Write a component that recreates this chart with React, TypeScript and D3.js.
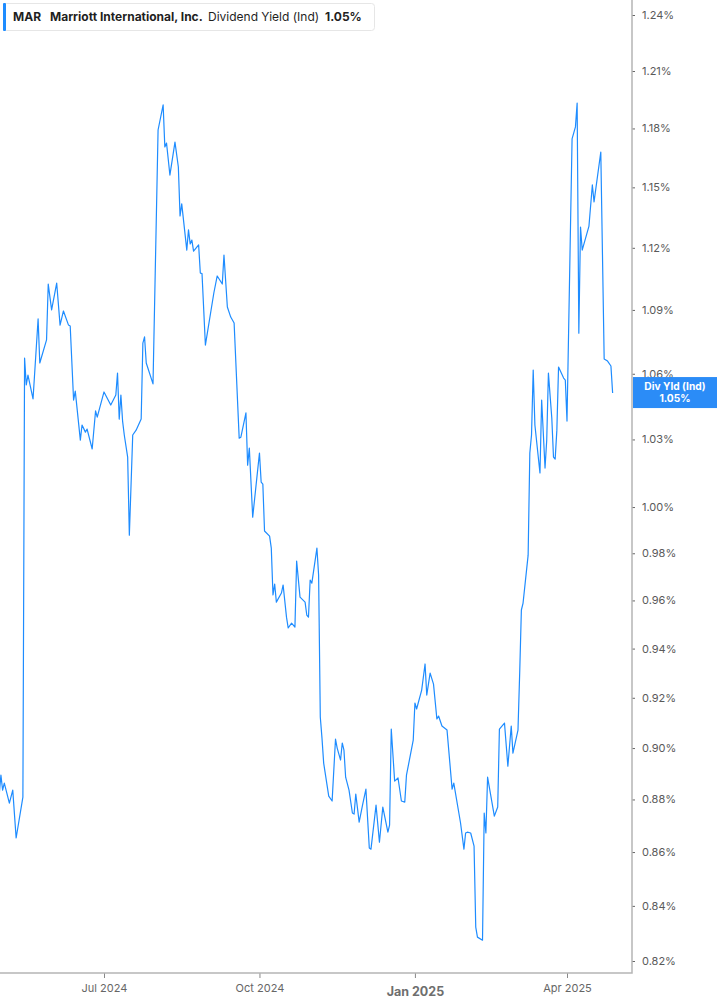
import React, { useEffect, useRef } from "react";
import * as d3 from "d3";

const WIDTH = 717;
const HEIGHT = 1005;
const PLOT_RIGHT = 632;
const PLOT_BOTTOM = 973;
const LINE_COLOR = "#1e8cff";
const FONT = "Inter, 'Noto Sans', sans-serif";

const ticker = "MAR";
const company = "Marriott International, Inc.";
const metric = "Dividend Yield (Ind)";
const tagLabel = "Div Yld (Ind)";

// daily dividend yield (%)
const dates = [
  "2024-04-30", "2024-05-01", "2024-05-02", "2024-05-03", "2024-05-06", "2024-05-08", "2024-05-10",
  "2024-05-14", "2024-05-15", "2024-05-16", "2024-05-17", "2024-05-20", "2024-05-23", "2024-05-24",
  "2024-05-28", "2024-05-29", "2024-05-31", "2024-06-03", "2024-06-05", "2024-06-07", "2024-06-10",
  "2024-06-11", "2024-06-13", "2024-06-14", "2024-06-17", "2024-06-18", "2024-06-20", "2024-06-21",
  "2024-06-24", "2024-06-26", "2024-06-27", "2024-07-01", "2024-07-05", "2024-07-08", "2024-07-09",
  "2024-07-10", "2024-07-11", "2024-07-12", "2024-07-13", "2024-07-15", "2024-07-16", "2024-07-18",
  "2024-07-20", "2024-07-23", "2024-07-24", "2024-07-25", "2024-07-26", "2024-07-30", "2024-08-02",
  "2024-08-05", "2024-08-06", "2024-08-07", "2024-08-09", "2024-08-12", "2024-08-14", "2024-08-15",
  "2024-08-16", "2024-08-19", "2024-08-20", "2024-08-21", "2024-08-22", "2024-08-23", "2024-08-26",
  "2024-08-27", "2024-08-28", "2024-08-30", "2024-09-04", "2024-09-06", "2024-09-09", "2024-09-10",
  "2024-09-12", "2024-09-14", "2024-09-16", "2024-09-19", "2024-09-20", "2024-09-23", "2024-09-24",
  "2024-09-25", "2024-09-27", "2024-10-01", "2024-10-02", "2024-10-03", "2024-10-04", "2024-10-07",
  "2024-10-08", "2024-10-09", "2024-10-10", "2024-10-11", "2024-10-14", "2024-10-15", "2024-10-17",
  "2024-10-18", "2024-10-20", "2024-10-22", "2024-10-23", "2024-10-25", "2024-10-28", "2024-10-29",
  "2024-10-30", "2024-10-31", "2024-11-01", "2024-11-04", "2024-11-05", "2024-11-06", "2024-11-07",
  "2024-11-08", "2024-11-11", "2024-11-13", "2024-11-15", "2024-11-16", "2024-11-18", "2024-11-19",
  "2024-11-20", "2024-11-21", "2024-11-23", "2024-11-25", "2024-11-26", "2024-11-27", "2024-11-29",
  "2024-12-01", "2024-12-03", "2024-12-05", "2024-12-06", "2024-12-09", "2024-12-11", "2024-12-13",
  "2024-12-16", "2024-12-17", "2024-12-18", "2024-12-20", "2024-12-22", "2024-12-24", "2024-12-26",
  "2024-12-27", "2024-12-31", "2025-01-01", "2025-01-02", "2025-01-05", "2025-01-07", "2025-01-08",
  "2025-01-10", "2025-01-12", "2025-01-14", "2025-01-15", "2025-01-17", "2025-01-20", "2025-01-23",
  "2025-01-24", "2025-01-27", "2025-01-28", "2025-01-30", "2025-01-31", "2025-02-01", "2025-02-03",
  "2025-02-05", "2025-02-06", "2025-02-07", "2025-02-10", "2025-02-11", "2025-02-12", "2025-02-13",
  "2025-02-17", "2025-02-19", "2025-02-20", "2025-02-23", "2025-02-25", "2025-02-27", "2025-02-28",
  "2025-03-03", "2025-03-04", "2025-03-05", "2025-03-06", "2025-03-09", "2025-03-10", "2025-03-11",
  "2025-03-12", "2025-03-13", "2025-03-16", "2025-03-17", "2025-03-19", "2025-03-20", "2025-03-21",
  "2025-03-23", "2025-03-24", "2025-03-25", "2025-03-26", "2025-03-27", "2025-03-30", "2025-03-31",
  "2025-04-01", "2025-04-04", "2025-04-06", "2025-04-07", "2025-04-08", "2025-04-09", "2025-04-10",
  "2025-04-14", "2025-04-16", "2025-04-17", "2025-04-21", "2025-04-23", "2025-04-25", "2025-04-27",
  "2025-04-28",
];

const yields = [
  0.8821, 0.8894, 0.8836, 0.8863, 0.8786, 0.8836, 0.8653,
  0.8809, 1.0673, 1.0548, 1.0594, 1.0484, 1.0857, 1.065,
  1.0758, 1.1024, 1.09, 1.1029, 1.0828, 1.0895, 1.0828,
  1.0824, 1.0479, 1.052, 1.0297, 1.0365, 1.0333, 1.0347,
  1.0257, 1.0429, 1.0401, 1.0516, 1.0456, 1.0502, 1.0603,
  1.0392, 1.0502, 1.0383, 1.032, 1.0221, 0.9878, 1.032,
  1.0342, 1.0392, 1.0743, 1.0772, 1.065, 1.0553, 1.1792,
  1.1922, 1.1705, 1.1725, 1.1562, 1.173, 1.1603, 1.1357,
  1.1417, 1.1189, 1.1288, 1.1219, 1.1238, 1.1184, 1.1214,
  1.1077, 1.1075, 1.0734, 1.0981, 1.1063, 1.1024, 1.1165,
  1.0914, 1.0866, 1.0838, 1.0306, 1.031, 1.042, 1.0185,
  1.0261, 0.9956, 1.0239, 1.011, 1.0101, 0.9896, 0.9874,
  0.9822, 0.9623, 0.9669, 0.9593, 0.9631, 0.9665, 0.953,
  0.9485, 0.9505, 0.9489, 0.9767, 0.9614, 0.9593, 0.9539,
  0.953, 0.9686, 0.9673, 0.9822, 0.9707, 0.9123, 0.9039,
  0.8941, 0.8813, 0.8794, 0.9035, 0.9, 0.8953, 0.902,
  0.8992, 0.8886, 0.8836, 0.8748, 0.8744, 0.8821, 0.8713,
  0.8778, 0.884, 0.8615, 0.8611, 0.8778, 0.8637, 0.8771,
  0.8675, 0.8702, 0.9075, 0.8871, 0.8883, 0.8794, 0.879,
  0.8894, 0.9031, 0.9179, 0.9155, 0.9231, 0.9337, 0.9211,
  0.93, 0.9255, 0.9115, 0.9127, 0.9087, 0.9071, 0.884,
  0.8863, 0.8748, 0.871, 0.8611, 0.8672, 0.8675, 0.8672,
  0.8622, 0.8322, 0.8286, 0.8275, 0.8748, 0.8672, 0.8886,
  0.8736, 0.8771, 0.9075, 0.9099, 0.8929, 0.9087, 0.898,
  0.9071, 0.93, 0.956, 0.9589, 0.9792, 1.0239, 1.032,
  1.0617, 1.0365, 1.015, 1.0479, 1.0172, 1.0297, 1.0603,
  1.0397, 1.0221, 1.0212, 1.0342, 1.0631, 1.058, 1.0571,
  1.0383, 1.1746, 1.1808, 1.1932, 1.079, 1.1302, 1.1189,
  1.1307, 1.1512, 1.1427, 1.1679, 1.0669, 1.0659, 1.0636,
  1.0511,
];

const yTicks = [
  0.82, 0.84, 0.86, 0.88, 0.9, 0.92, 0.94, 0.96, 0.98,
  1.0, 1.03, 1.06, 1.09, 1.12, 1.15, 1.18, 1.21, 1.24,
];
const xTickDates = ["2024-07-01", "2024-10-01", "2025-01-01", "2025-04-01"];
const xTickLabels = ["Jul 2024", "Oct 2024", "Jan 2025", "Apr 2025"];
const boldTick = "Jan 2025";

const parseDate = d3.timeParse("%Y-%m-%d");
const pct = (v: number) => d3.format(".2f")(v) + "%";

export default function App() {
  const svgRef = useRef<SVGSVGElement>(null);

  useEffect(() => {
    const svg = d3.select(svgRef.current);
    svg.selectAll("*").remove();

    const data = dates.map((d, i) => ({ date: parseDate(d), value: yields[i] }));

    const x = d3
      .scaleTime()
      .domain([parseDate(xTickDates[0]), parseDate(xTickDates[3])])
      .range([104, 567]);
    const y = d3.scaleLog().domain([0.82, 1.24]).range([961, 15]);

    // header
    const header = svg.append("g");
    header
      .append("rect")
      .attr("x", 3.5)
      .attr("y", 3.5)
      .attr("width", 371)
      .attr("height", 27)
      .attr("rx", 3)
      .attr("fill", "#fff")
      .attr("stroke", "#e6e6e6");
    header
      .append("rect")
      .attr("x", 3)
      .attr("y", 3)
      .attr("width", 3)
      .attr("height", 28)
      .attr("rx", 1)
      .attr("fill", LINE_COLOR);
    const headerText = [
      { t: ticker, x: 13, w: 700 },
      { t: company, x: 50, w: 700 },
      { t: metric, x: 208, w: 400 },
      { t: pct(yields[yields.length - 1]), x: 325, w: 700 },
    ];
    header
      .selectAll("text")
      .data(headerText)
      .enter()
      .append("text")
      .attr("x", (d) => d.x)
      .attr("y", 21)
      .attr("font-family", FONT)
      .attr("font-size", 12)
      .attr("font-weight", (d) => d.w)
      .attr("fill", "#1f1f1f")
      .text((d) => d.t);

    // line
    const line = d3
      .line<any>()
      .x((d) => x(d.date))
      .y((d) => y(d.value));
    svg
      .append("path")
      .datum(data)
      .attr("d", line)
      .attr("fill", "none")
      .attr("stroke", LINE_COLOR)
      .attr("stroke-width", 1.2)
      .attr("stroke-linejoin", "round");

    // right axis
    const yAxis = d3
      .axisRight(y)
      .tickValues(yTicks)
      .tickFormat((d: any) => pct(d))
      .tickSize(3)
      .tickPadding(7);
    const ya = svg
      .append("g")
      .attr("transform", `translate(${PLOT_RIGHT}, 0)`)
      .call(yAxis);
    ya.select(".domain").remove();
    ya.selectAll("line").attr("stroke", "#666");
    ya.selectAll("text")
      .attr("font-family", FONT)
      .attr("font-size", 11)
      .attr("fill", "#5a5a5a");

    // bottom axis
    const xAxis = d3
      .axisBottom(x)
      .tickValues(xTickDates.map((d) => parseDate(d)))
      .tickFormat((d, i) => xTickLabels[i])
      .tickSize(5)
      .tickPadding(6);
    const xa = svg
      .append("g")
      .attr("transform", `translate(0, ${PLOT_BOTTOM})`)
      .call(xAxis);
    xa.select(".domain").remove();
    xa.selectAll("line").attr("stroke", "#888");
    xa.selectAll("text")
      .attr("font-family", FONT)
      .attr("font-size", (d, i) => (xTickLabels[i] === boldTick ? 12.5 : 11))
      .attr("font-weight", (d, i) => (xTickLabels[i] === boldTick ? 700 : 400))
      .attr("dy", (d, i) => (xTickLabels[i] === boldTick ? "0.95em" : "0.71em"))
      .attr("fill", (d, i) => (xTickLabels[i] === boldTick ? "#6e6e6e" : "#666"));

    // frame
    svg
      .append("path")
      .attr("d", `M0,${PLOT_BOTTOM}H${PLOT_RIGHT}V0`)
      .attr("fill", "none")
      .attr("stroke", "#b5b5b5")
      .attr("stroke-width", 1.5);

    // last value tag
    const last = yields[yields.length - 1];
    const ty = y(last);
    const tag = svg.append("g");
    tag
      .append("rect")
      .attr("x", PLOT_RIGHT + 1)
      .attr("y", ty - 16)
      .attr("width", WIDTH - PLOT_RIGHT - 1)
      .attr("height", 31)
      .attr("fill", "#2b8cf7");
    [tagLabel, pct(last)].forEach((t, i) => {
      tag
        .append("text")
        .attr("x", 675)
        .attr("y", ty - 6 + i * 12)
        .attr("text-anchor", "middle")
        .attr("dominant-baseline", "middle")
        .attr("font-family", FONT)
        .attr("font-size", 10.2)
        .attr("font-weight", 700)
        .attr("fill", "#fff")
        .text(t);
    });
  }, []);

  return (
    <svg
      ref={svgRef}
      width={WIDTH}
      height={HEIGHT}
      style={{ position: "absolute", left: 0, top: 0, background: "#fff" }}
    />
  );
}
